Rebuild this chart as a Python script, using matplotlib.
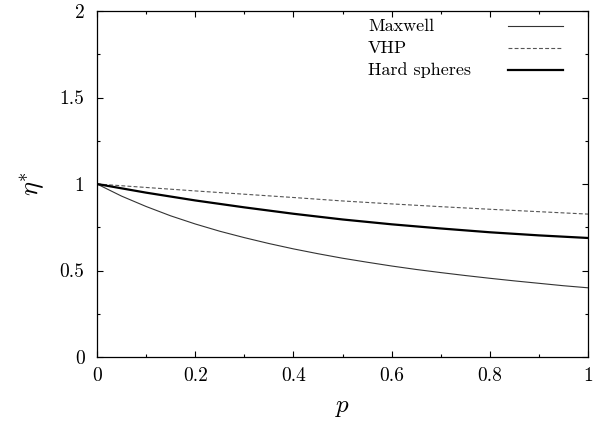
import matplotlib
matplotlib.use("Agg")
import matplotlib.pyplot as plt
from matplotlib.lines import Line2D

plt.rcParams['font.family'] = ['cmr10', 'DejaVu Serif']
plt.rcParams['mathtext.fontset'] = 'cm'
plt.rcParams['axes.unicode_minus'] = False

# Data
p_fine = [0.0, 0.05, 0.1, 0.15, 0.2, 0.25, 0.3, 0.35, 0.4, 0.45, 0.5,
          0.55, 0.6, 0.65, 0.7, 0.75, 0.8, 0.85, 0.9, 0.95, 1.0]
maxwell = [1.0, 0.930, 0.870, 0.816, 0.769, 0.727, 0.690, 0.656, 0.625, 0.597, 0.571,
           0.548, 0.526, 0.506, 0.488, 0.471, 0.455, 0.440, 0.426, 0.412, 0.400]
p_coarse = [0.0, 0.1, 0.2, 0.3, 0.4, 0.5, 0.6, 0.7, 0.8, 0.9, 1.0]
vhp = [1.0, 0.980, 0.960, 0.941, 0.922, 0.902, 0.885, 0.869, 0.854, 0.840, 0.826]
hard_spheres = [1.0, 0.950, 0.905, 0.865, 0.828, 0.795, 0.767, 0.743, 0.721, 0.703, 0.688]

series_names = ["Maxwell", "VHP", "Hard spheres"]
xticks = [0, 0.2, 0.4, 0.6, 0.8, 1]
xticklabels = ["0", "0.2", "0.4", "0.6", "0.8", "1"]
yticks = [0, 0.5, 1, 1.5, 2]
yticklabels = ["0", "0.5", "1", "1.5", "2"]

fig = plt.figure(figsize=(6.06, 4.30), dpi=100)
ax = fig.add_axes([97/606, (430-357)/430, 491/606, 346/430])

styles = [
    dict(color='#333333', lw=0.8, ls='-'),
    dict(color='#555555', lw=0.8, ls=(0, (3.5, 2))),
    dict(color='black', lw=1.6, ls='-'),
]
ax.plot(p_fine, maxwell, **styles[0])
ax.plot(p_coarse, vhp, **styles[1])
ax.plot(p_coarse, hard_spheres, **styles[2])

ax.set_xlim(0, 1)
ax.set_ylim(0, 2)
ax.set_xticks(xticks)
ax.set_xticklabels(xticklabels)
ax.set_yticks(yticks)
ax.set_yticklabels(yticklabels)
ax.set_xticks([0.1, 0.3, 0.5, 0.7, 0.9], minor=True)
ax.set_yticks([0.25, 0.75, 1.25, 1.75], minor=True)
ax.tick_params(which='both', direction='in', top=True, right=True, width=0.8,
               labelsize=14)
ax.tick_params(which='major', length=4)
ax.tick_params(which='minor', length=2)
ax.tick_params(axis='y', pad=9)
ax.tick_params(axis='x', pad=7)
for s in ax.spines.values():
    s.set_linewidth(0.9)

ax.set_xlabel(r'$p$', fontsize=18, labelpad=9)
ax.set_ylabel(r'$\eta^{*}$', fontsize=19, labelpad=9)

# gnuplot-style key: text left, sample line right
rows = [0.957, 0.893, 0.829]
for name, yy, st in zip(series_names, rows, styles):
    ax.text(0.552, yy, name, transform=ax.transAxes, fontsize=13,
            ha='left', va='center')
    ax.add_line(Line2D([0.837, 0.949], [yy, yy], transform=ax.transAxes, **st))

fig.savefig("out.png", dpi=100)
